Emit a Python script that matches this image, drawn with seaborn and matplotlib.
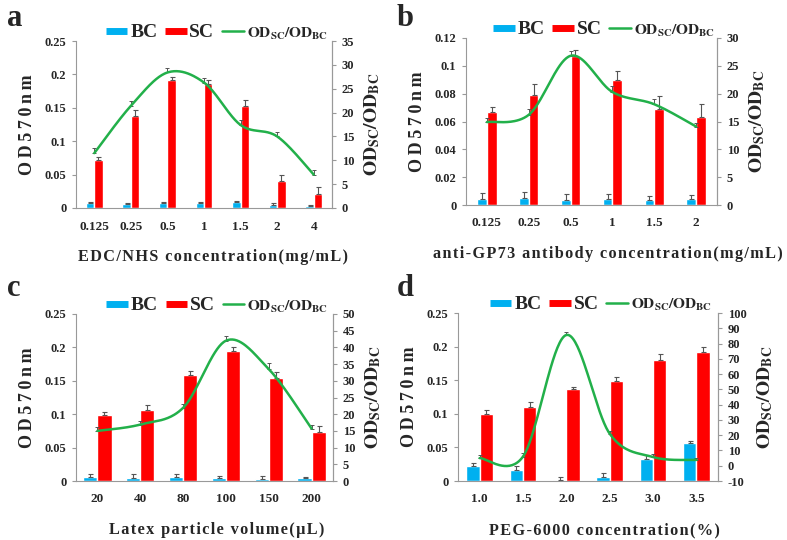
import numpy as np
import pandas as pd
import matplotlib
matplotlib.use("Agg")
import matplotlib.pyplot as plt
import seaborn as sns
from matplotlib.lines import Line2D
from matplotlib.ticker import FormatStrFormatter, FuncFormatter

# ---------------- data ----------------
a_cats = ["0.125", "0.25", "0.5", "1", "1.5", "2", "4"]
a_bc = [0.007, 0.006, 0.007, 0.007, 0.009, 0.005, 0.003]
a_bc_err = [0.002, 0.002, 0.002, 0.002, 0.002, 0.002, 0.002]
a_sc = [0.072, 0.138, 0.191, 0.185, 0.152, 0.040, 0.021]
a_sc_err = [0.004, 0.009, 0.005, 0.006, 0.010, 0.009, 0.011]
a_ratio = [11.5, 21.4, 28.4, 26.3, 17.4, 15.0, 7.0]
a_ratio_err = [1.0, 1.0, 1.0, 1.0, 1.0, 1.0, 1.0]

b_cats = ["0.125", "0.25", "0.5", "1", "1.5", "2"]
b_bc = [0.0042, 0.0048, 0.0038, 0.0042, 0.0038, 0.0042]
b_bc_err = [0.0045, 0.0043, 0.0042, 0.0038, 0.003, 0.003]
b_sc = [0.0665, 0.0794, 0.1073, 0.0900, 0.0690, 0.0630]
b_sc_err = [0.0040, 0.0075, 0.0040, 0.0065, 0.0095, 0.0095]
b_ratio = [14.9, 16.2, 26.8, 20.3, 18.1, 14.1]
b_ratio_err = [0.8, 1.0, 0.8, 1.0, 1.0, 0.6]

c_cats = ["20", "40", "80", "100", "150", "200"]
c_bc = [0.006, 0.005, 0.006, 0.004, 0.003, 0.004]
c_bc_err = [0.004, 0.005, 0.004, 0.003, 0.004, 0.002]
c_sc = [0.099, 0.107, 0.159, 0.195, 0.154, 0.073]
c_sc_err = [0.004, 0.007, 0.005, 0.006, 0.009, 0.010]
c_ratio = [15.0, 16.9, 21.9, 42.0, 33.5, 15.7]
c_ratio_err = [1.2, 1.2, 1.2, 1.5, 1.8, 1.2]

d_cats = ["1.0", "1.5", "2.0", "2.5", "3.0", "3.5"]
d_bc = [0.0225, 0.017, 0.001, 0.0065, 0.033, 0.057]
d_bc_err = [0.0045, 0.006, 0.005, 0.005, 0.005, 0.002]
d_sc = [0.1003, 0.110, 0.1367, 0.1487, 0.1796, 0.1916]
d_sc_err = [0.006, 0.008, 0.0035, 0.0055, 0.010, 0.0085]
d_ratio = [5.0, 6.0, 85.6, 21.0, 5.7, 3.8]
d_ratio_err = [2.0, 2.5, 2.0, 2.0, 2.0, 1.5]

panels = [
    dict(letter="a", cats=a_cats, bc=a_bc, bce=a_bc_err, sc=a_sc, sce=a_sc_err,
         r=a_ratio, re=a_ratio_err, ylim=(0, 0.25), ystep=0.05, rlim=(0, 35), rstep=5,
         xlabel="EDC/NHS concentration(mg/mL)", width=0.46, xlab_x=0.535,
         rect=[76, 41, 332, 208]),
    dict(letter="b", cats=b_cats, bc=b_bc, bce=b_bc_err, sc=b_sc, sce=b_sc_err,
         r=b_ratio, re=b_ratio_err, ylim=(0, 0.12), ystep=0.02, rlim=(0, 30), rstep=5,
         xlabel="anti-GP73 antibody concentration(mg/mL)", width=0.46, xlab_x=0.565,
         rect=[466, 38, 717, 205]),
    dict(letter="c", cats=c_cats, bc=c_bc, bce=c_bc_err, sc=c_sc, sce=c_sc_err,
         r=c_ratio, re=c_ratio_err, ylim=(0, 0.25), ystep=0.05, rlim=(0, 50), rstep=5,
         xlabel="Latex particle volume(\u03bcL)", width=0.66, xlab_x=0.548,
         rect=[76, 314, 333, 481]),
    dict(letter="d", cats=d_cats, bc=d_bc, bce=d_bc_err, sc=d_sc, sce=d_sc_err,
         r=d_ratio, re=d_ratio_err, ylim=(0, 0.25), ystep=0.05, rlim=(-10, 100), rstep=10,
         xlabel="PEG-6000 concentration(%)", width=0.62, xlab_x=0.565,
         rect=[458, 313, 718, 481]),
]

BLUE = "#00B0F0"
RED = "#FF0000"
GREEN = "#22B04A"
SPINE = "#999999"

sns.set_style("white")
plt.rcParams["font.family"] = ["Liberation Serif", "DejaVu Serif"]
plt.rcParams["font.weight"] = "bold"
plt.rcParams["mathtext.fontset"] = "stix"

W, H = 787, 540
fig = plt.figure(figsize=(W / 100, H / 100), dpi=100)


def spaced(s, sp="\u2009"):
    return sp.join(list(s))


def smooth(xs, ys, n=40):
    pts = np.column_stack([xs, ys]).astype(float)
    out = []
    m = len(pts)
    for i in range(m - 1):
        p0 = pts[i - 1] if i > 0 else pts[i]
        p1 = pts[i]
        p2 = pts[i + 1]
        p3 = pts[i + 2] if i + 2 < m else pts[i + 1]
        c1 = p1 + (p2 - p0) / 6.0
        c2 = p2 - (p3 - p1) / 6.0
        t = np.linspace(0, 1, n)[:, None]
        seg = (1 - t) ** 3 * p1 + 3 * (1 - t) ** 2 * t * c1 + 3 * (1 - t) * t ** 2 * c2 + t ** 3 * p2
        out.append(seg if i == 0 else seg[1:])
    return np.vstack(out)


for P in panels:
    l, t, r, b = P["rect"]
    ax = fig.add_axes([l / W, 1 - b / H, (r - l) / W, (b - t) / H])
    cats = P["cats"]
    n = len(cats)
    df = pd.DataFrame({
        "conc": cats * 2,
        "od": list(P["bc"]) + list(P["sc"]),
        "group": ["BC"] * n + ["SC"] * n,
    })
    sns.barplot(data=df, x="conc", y="od", hue="group", order=cats,
                hue_order=["BC", "SC"], palette={"BC": BLUE, "SC": RED},
                width=P["width"], dodge=True, errorbar=None, legend=False,
                saturation=1, ax=ax, zorder=2)
    errs = [P["bce"], P["sce"]]
    bar_conts = list(ax.containers)[:2]
    for k, cont in enumerate(bar_conts):
        for j, bar in enumerate(cont.patches):
            xc = bar.get_x() + bar.get_width() / 2
            h = bar.get_height()
            ax.errorbar(xc, h, yerr=[[0], [errs[k][j]]], fmt="none",
                        ecolor="#555555", elinewidth=0.8, capsize=1.8,
                        capthick=0.8, zorder=3)
    ax.set_xlim(-0.5, n - 0.5)
    ax.set_ylim(*P["ylim"])
    ax.set_yticks(np.arange(P["ylim"][0], P["ylim"][1] + 1e-9, P["ystep"]))
    ax.yaxis.set_major_formatter(FuncFormatter(lambda v, p: ("%g" % round(v, 4))))
    ax.set_xticks(range(n))
    ax.set_xticklabels(cats)
    ax.set_xticks(np.arange(-0.5, n, 1.0), minor=True)
    ax.tick_params(axis="x", which="major", length=0, pad=9, labelsize=9.5)
    ax.tick_params(axis="x", which="minor", length=3, color=SPINE, width=0.8)
    ax.tick_params(axis="y", which="major", length=3, color=SPINE, width=0.8,
                   labelsize=9, pad=4)
    for lab in ax.get_xticklabels() + ax.get_yticklabels():
        lab.set_fontweight("bold")
    ax.set_xlabel(spaced(P["xlabel"], "\u200a"), fontsize=11.7, fontweight="bold",
                  labelpad=12)
    ax.xaxis.label.set_x(P["xlab_x"])
    ax.set_ylabel(spaced("OD570nm"), fontsize=13, fontweight="bold", labelpad=6)
    ax.spines["top"].set_visible(False)
    for s in ["left", "bottom", "right"]:
        ax.spines[s].set_color(SPINE)
        ax.spines[s].set_linewidth(0.8)

    ax2 = ax.twinx()
    xs = np.arange(n)
    sm = smooth(xs, P["r"])
    ax2.plot(sm[:, 0], sm[:, 1], color=GREEN, lw=1.8, zorder=4)
    ax2.errorbar(xs, P["r"], yerr=[np.zeros(n), P["re"]], fmt="none",
                 ecolor="#555555", elinewidth=0.7, capsize=1.5, capthick=0.7, zorder=3)
    ax2.set_ylim(*P["rlim"])
    ax2.set_yticks(np.arange(P["rlim"][0], P["rlim"][1] + 1e-9, P["rstep"]))
    ax2.yaxis.set_major_formatter(FormatStrFormatter("%d"))
    ax2.tick_params(axis="y", length=3, color=SPINE, width=0.8, labelsize=9, pad=4)
    for lab in ax2.get_yticklabels():
        lab.set_fontweight("bold")
    ax2.set_ylabel(r"$\mathbf{OD_{SC}/OD_{BC}}$", fontsize=14, labelpad=6)
    for s in ["top", "left", "bottom"]:
        ax2.spines[s].set_visible(False)
    ax2.spines["right"].set_color(SPINE)
    ax2.spines["right"].set_linewidth(0.8)
    ax2.set_xlim(-0.5, n - 0.5)

    handles = [Line2D([0], [0], color=BLUE, lw=5, solid_capstyle="butt"),
               Line2D([0], [0], color=RED, lw=5, solid_capstyle="butt"),
               Line2D([0], [0], color=GREEN, lw=1.8)]
    labels = ["BC", "SC", r"$\mathbf{OD_{SC}/OD_{BC}}$"]
    leg = ax2.legend(handles, labels, loc="center", bbox_to_anchor=(0.55, 1.05),
                     ncol=3, frameon=False, handlelength=1.1, handletextpad=0.15,
                     columnspacing=0.4, prop={"weight": "bold", "size": 14},
                     borderaxespad=0)
    leg.get_texts()[2].set_fontsize(11)
    fig.text((7 if P["letter"] in "ac" else 397) / W,
             1 - ((26 if P["letter"] in "ab" else 296)) / H,
             P["letter"], fontsize=22, fontweight="bold", ha="left", va="baseline")

fig.savefig("out.png", dpi=100)
